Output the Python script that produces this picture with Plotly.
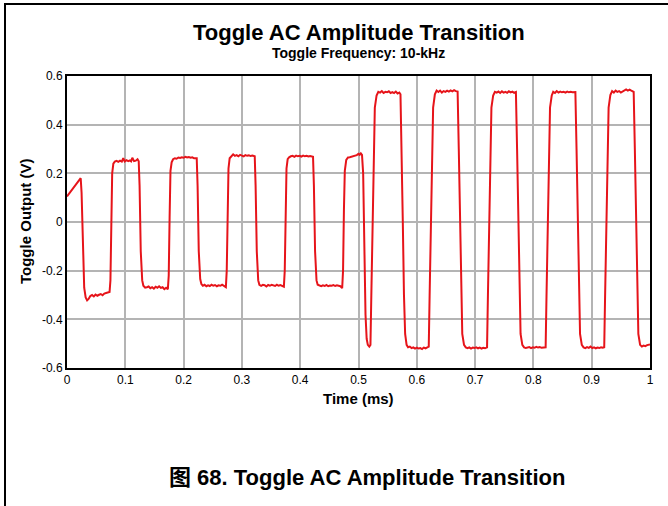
import plotly.graph_objects as go

# ---- data (time in ms, output in V) ----
trace_points = [
    # initial segment, small amplitude
    (0.000, 0.105), (0.004, 0.118), (0.008, 0.132), (0.012, 0.145), (0.016, 0.158), (0.019, 0.163), (0.021, 0.172), (0.0235, 0.180),
    (0.0250, 0.120), (0.0270, -0.120), (0.0295, -0.270), (0.0320, -0.310),
    (0.0345, -0.322), (0.0370, -0.316), (0.0400, -0.304), (0.0430, -0.300), (0.0460, -0.306), (0.0490, -0.298), (0.0520, -0.303), (0.0550, -0.299), (0.0580, -0.296), (0.0610, -0.301), (0.0640, -0.294), (0.0670, -0.292), (0.0700, -0.289), (0.0730, -0.288),
    (0.0745, -0.240), (0.0760, 0.000), (0.0775, 0.200), (0.0795, 0.240),
    (0.0820, 0.248), (0.0850, 0.251), (0.0880, 0.247), (0.0910, 0.252), (0.0940, 0.248), (0.0965, 0.262), (0.0990, 0.249), (0.1020, 0.254), (0.1050, 0.250), (0.1080, 0.253), (0.1100, 0.249), (0.1120, 0.264), (0.1150, 0.250), (0.1180, 0.252), (0.1210, 0.258), (0.1230, 0.250),
    (0.1245, 0.150), (0.1265, -0.120), (0.1290, -0.240), (0.1310, -0.262),
    (0.1340, -0.270), (0.1370, -0.268), (0.1400, -0.265), (0.1430, -0.272), (0.1460, -0.268), (0.1490, -0.274), (0.1520, -0.266), (0.1550, -0.270), (0.1580, -0.264), (0.1610, -0.271), (0.1640, -0.268), (0.1670, -0.276), (0.1700, -0.270), (0.1730, -0.276),
    (0.1745, -0.220), (0.1760, 0.020), (0.1775, 0.210), (0.1795, 0.245),
    (0.1820, 0.258), (0.1850, 0.262), (0.1880, 0.260), (0.1910, 0.265), (0.1940, 0.263), (0.1970, 0.266), (0.2000, 0.264), (0.2030, 0.268), (0.2060, 0.265), (0.2090, 0.267), (0.2120, 0.264), (0.2150, 0.266), (0.2180, 0.262), (0.2225, 0.262),
    (0.2240, 0.150), (0.2260, -0.120), (0.2285, -0.235), (0.2305, -0.255),
    (0.2330, -0.262), (0.2360, -0.258), (0.2390, -0.264), (0.2420, -0.260), (0.2450, -0.263), (0.2480, -0.258), (0.2510, -0.262), (0.2540, -0.259), (0.2570, -0.264), (0.2600, -0.260), (0.2630, -0.262), (0.2660, -0.258), (0.2690, -0.263), (0.2725, -0.268),
    (0.2740, -0.200), (0.2755, 0.050), (0.2770, 0.220), (0.2790, 0.262),
    (0.2820, 0.270), (0.2850, 0.278), (0.2880, 0.272), (0.2910, 0.275), (0.2940, 0.270), (0.2970, 0.276), (0.3000, 0.273), (0.3030, 0.270), (0.3060, 0.275), (0.3090, 0.272), (0.3120, 0.274), (0.3150, 0.271), (0.3180, 0.273), (0.3220, 0.270),
    (0.3235, 0.150), (0.3255, -0.120), (0.3280, -0.240), (0.3300, -0.258),
    (0.3330, -0.262), (0.3360, -0.258), (0.3390, -0.260), (0.3420, -0.265), (0.3450, -0.259), (0.3480, -0.262), (0.3510, -0.258), (0.3540, -0.261), (0.3570, -0.263), (0.3600, -0.258), (0.3630, -0.262), (0.3660, -0.259), (0.3690, -0.261), (0.3720, -0.266),
    (0.3735, -0.200), (0.3750, 0.050), (0.3765, 0.220), (0.3785, 0.258),
    (0.3810, 0.266), (0.3840, 0.270), (0.3870, 0.272), (0.3900, 0.268), (0.3930, 0.273), (0.3960, 0.270), (0.3990, 0.272), (0.4020, 0.269), (0.4050, 0.273), (0.4080, 0.270), (0.4110, 0.272), (0.4140, 0.269), (0.4170, 0.271), (0.4220, 0.268),
    (0.4235, 0.150), (0.4255, -0.120), (0.4280, -0.240), (0.4300, -0.258),
    (0.4330, -0.262), (0.4360, -0.264), (0.4390, -0.260), (0.4420, -0.263), (0.4450, -0.259), (0.4480, -0.264), (0.4510, -0.261), (0.4540, -0.262), (0.4570, -0.259), (0.4600, -0.263), (0.4630, -0.260), (0.4660, -0.262), (0.4690, -0.264), (0.4720, -0.272),
    (0.4735, -0.200), (0.4750, 0.050), (0.4765, 0.210), (0.4790, 0.255),
    (0.4820, 0.265), (0.4850, 0.266), (0.4880, 0.268), (0.4910, 0.269), (0.4940, 0.272), (0.4970, 0.275), (0.5000, 0.280), (0.5020, 0.276), (0.5040, 0.282), (0.5060, 0.276),
    # amplitude transition, large amplitude
    (0.5080, 0.200), (0.5100, -0.100), (0.5120, -0.380), (0.5140, -0.480), (0.5160, -0.505), (0.5185, -0.512), (0.5205, -0.505),
    (0.5220, -0.300), (0.5240, 0.000), (0.5260, 0.300), (0.5280, 0.470), (0.5310, 0.520),
    (0.5340, 0.535), (0.5370, 0.532), (0.5400, 0.538), (0.5430, 0.530), (0.5460, 0.535), (0.5490, 0.533), (0.5520, 0.537), (0.5550, 0.530), (0.5580, 0.534), (0.5610, 0.530), (0.5640, 0.536), (0.5670, 0.528), (0.5700, 0.532), (0.5720, 0.525),
    (0.5740, 0.300), (0.5760, 0.000), (0.5780, -0.300), (0.5800, -0.460), (0.5825, -0.505),
    (0.5850, -0.515), (0.5880, -0.512), (0.5910, -0.518), (0.5940, -0.515), (0.5970, -0.520), (0.6000, -0.516), (0.6030, -0.520), (0.6060, -0.518), (0.6090, -0.522), (0.6120, -0.516), (0.6150, -0.519), (0.6180, -0.515), (0.6205, -0.512),
    (0.6220, -0.300), (0.6240, 0.000), (0.6260, 0.300), (0.6280, 0.470), (0.6310, 0.525),
    (0.6340, 0.540), (0.6370, 0.534), (0.6400, 0.540), (0.6430, 0.532), (0.6460, 0.538), (0.6490, 0.535), (0.6520, 0.540), (0.6550, 0.536), (0.6580, 0.541), (0.6610, 0.537), (0.6640, 0.542), (0.6670, 0.538), (0.6700, 0.536),
    (0.6720, 0.300), (0.6740, 0.000), (0.6760, -0.300), (0.6780, -0.460), (0.6810, -0.505),
    (0.6840, -0.515), (0.6870, -0.518), (0.6900, -0.515), (0.6930, -0.520), (0.6960, -0.516), (0.6990, -0.518), (0.7020, -0.515), (0.7050, -0.519), (0.7080, -0.516), (0.7110, -0.520), (0.7140, -0.517), (0.7170, -0.519), (0.7205, -0.515),
    (0.7220, -0.300), (0.7240, 0.000), (0.7260, 0.300), (0.7280, 0.470), (0.7310, 0.520),
    (0.7340, 0.535), (0.7370, 0.532), (0.7400, 0.536), (0.7430, 0.530), (0.7460, 0.537), (0.7490, 0.532), (0.7520, 0.535), (0.7550, 0.531), (0.7580, 0.537), (0.7610, 0.533), (0.7640, 0.536), (0.7670, 0.531), (0.7700, 0.534),
    (0.7720, 0.300), (0.7740, 0.000), (0.7760, -0.300), (0.7780, -0.460), (0.7810, -0.505),
    (0.7840, -0.515), (0.7870, -0.518), (0.7900, -0.516), (0.7930, -0.514), (0.7960, -0.518), (0.7990, -0.515), (0.8020, -0.517), (0.8050, -0.513), (0.8080, -0.516), (0.8110, -0.514), (0.8140, -0.517), (0.8170, -0.515), (0.8210, -0.515),
    (0.8225, -0.300), (0.8245, 0.000), (0.8265, 0.300), (0.8285, 0.470), (0.8315, 0.520),
    (0.8340, 0.535), (0.8370, 0.530), (0.8400, 0.538), (0.8430, 0.532), (0.8460, 0.536), (0.8490, 0.533), (0.8520, 0.535), (0.8550, 0.532), (0.8580, 0.536), (0.8610, 0.533), (0.8640, 0.535), (0.8670, 0.533), (0.8720, 0.534),
    (0.8740, 0.300), (0.8760, 0.000), (0.8780, -0.300), (0.8800, -0.460), (0.8830, -0.505),
    (0.8860, -0.515), (0.8890, -0.518), (0.8920, -0.514), (0.8950, -0.517), (0.8980, -0.512), (0.9010, -0.518), (0.9040, -0.515), (0.9070, -0.519), (0.9100, -0.516), (0.9130, -0.518), (0.9160, -0.515), (0.9190, -0.517), (0.9215, -0.515),
    (0.9230, -0.300), (0.9250, 0.000), (0.9270, 0.300), (0.9290, 0.470), (0.9320, 0.522),
    (0.9350, 0.538), (0.9380, 0.532), (0.9410, 0.540), (0.9440, 0.535), (0.9470, 0.538), (0.9500, 0.532), (0.9530, 0.537), (0.9560, 0.540), (0.9590, 0.545), (0.9620, 0.540), (0.9650, 0.544), (0.9680, 0.540), (0.9720, 0.535),
    (0.9740, 0.300), (0.9760, 0.000), (0.9780, -0.300), (0.9800, -0.460), (0.9830, -0.505),
    (0.9860, -0.512), (0.9890, -0.508), (0.9920, -0.510), (0.9950, -0.506), (0.9980, -0.504), (1.0000, -0.503),
]
time_ms = [p[0] for p in trace_points]
output_v = [p[1] for p in trace_points]

x_ticks = [0, 0.1, 0.2, 0.3, 0.4, 0.5, 0.6, 0.7, 0.8, 0.9, 1.0]
x_tick_labels = ["0", "0.1", "0.2", "0.3", "0.4", "0.5", "0.6", "0.7", "0.8", "0.9", "1"]
y_ticks = [-0.6, -0.4, -0.2, 0, 0.2, 0.4, 0.6]
y_tick_labels = ["-0.6", "-0.4", "-0.2", "0", "0.2", "0.4", "0.6"]

title_text = "Toggle AC Amplitude Transition"
subtitle_text = "Toggle Frequency: 10-kHz"
x_title = "Time (ms)"
y_title = "Toggle Output (V)"
caption_text = "图 68. Toggle AC Amplitude Transition"

# ---- layout geometry (pixels) ----
W, H = 668, 506
L, R, T, B = 67, 650, 76, 368


def px(x):
    return (x - L) / (R - L)


def py(y):
    return (B - y) / (B - T)


FONT = "Liberation Sans, Arial, Helvetica, sans-serif"

fig = go.Figure()
fig.add_trace(go.Scatter(
    x=time_ms, y=output_v, mode="lines",
    line=dict(color="#e6141a", width=2),
    showlegend=False, hoverinfo="skip",
))

axis_common = dict(
    showgrid=True, gridcolor="#b4b4b4", gridwidth=2,
    showline=True, linecolor="black", linewidth=2, mirror=True,
    zeroline=False, ticks="",
    tickfont=dict(family=FONT, size=12, color="black"),
)
fig.update_xaxes(range=[0, 1], tickvals=x_ticks, ticktext=x_tick_labels, **axis_common)
fig.update_yaxes(range=[-0.6, 0.6], tickvals=y_ticks, ticktext=y_tick_labels, **axis_common)

annotations = [
    dict(text="<b>%s</b>" % title_text, x=px(358.5), y=py(32), font=dict(family=FONT, size=22, color="black")),
    dict(text="<b>%s</b>" % subtitle_text, x=px(358.5), y=py(53), font=dict(family=FONT, size=14, color="black")),
    dict(text="<b>%s</b>" % x_title, x=px(358), y=py(398), font=dict(family=FONT, size=15, color="black")),
    dict(text="<b>%s</b>" % y_title, x=px(25), y=py(221), textangle=-90, font=dict(family=FONT, size=15, color="black")),
    dict(text="<b>%s</b>" % caption_text, x=px(366.5), y=py(477.5),
         font=dict(family="Liberation Sans, Noto Sans CJK SC, Arial, sans-serif", size=22, color="black")),
]
for a in annotations:
    a.update(xref="paper", yref="paper", showarrow=False, xanchor="center", yanchor="middle")

shapes = [
    dict(type="line", xref="paper", yref="paper", x0=px(5), x1=px(5), y0=py(3), y1=py(H + 5),
         line=dict(color="black", width=2)),
    dict(type="line", xref="paper", yref="paper", x0=px(4), x1=px(W + 5), y0=py(4), y1=py(4),
         line=dict(color="black", width=2)),
]

fig.update_layout(
    width=W, height=H,
    margin=dict(l=L, r=W - R, t=T, b=H - B, pad=0),
    paper_bgcolor="white", plot_bgcolor="white",
    annotations=annotations, shapes=shapes,
    font=dict(family=FONT, color="black"),
)

fig.write_html(
    "out.html",
    config={"displayModeBar": False},
    post_script="document.body.style.margin='0';document.body.style.padding='0';",
)
